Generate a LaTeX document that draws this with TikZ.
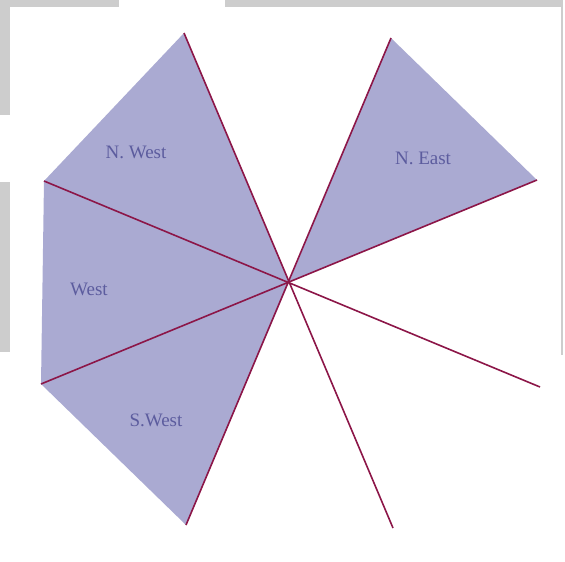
\documentclass[tikz,border=0pt]{standalone}
\usepackage{fontspec}
\setmainfont{Liberation Serif}
\definecolor{sectorfill}{RGB}{170,170,210}
\definecolor{rayline}{RGB}{140,22,72}
\definecolor{dirtext}{RGB}{92,92,158}
\definecolor{shotgrey}{RGB}{205,205,205}
\begin{document}
\begin{tikzpicture}[x=1pt,y=-1pt]
    \tikzset{
        sector/.style={fill=sectorfill,draw=none},
        ray/.style={draw=rayline,line width=1.6pt},
        dirlabel/.style={text=dirtext,font=\fontsize{19}{22}\selectfont,inner sep=0pt},
        frame/.style={fill=shotgrey,draw=none}
    }
    \useasboundingbox (0,0) rectangle (565,562);

    % screenshot edges
    \fill[frame] (0,0) rectangle (119,7);
    \fill[frame] (225,0) rectangle (563,7);
    \fill[frame] (0,0) rectangle (10,115);
    \fill[frame] (0,182) rectangle (10,352);
    \fill[frame] (561,0) rectangle (563,355);

    % hub and rim points
    \coordinate (hub) at (289,282);
    \coordinate (nw-top) at (184,33);
    \coordinate (ne-top) at (391,38);
    \coordinate (ne-right) at (537,180);
    \coordinate (w-up) at (44,181);
    \coordinate (w-low) at (41,384);
    \coordinate (sw-bot) at (186,525);
    \coordinate (se-right) at (540,387);
    \coordinate (se-bot) at (393,528);

    \fill[sector] (hub) -- (nw-top) -- (w-up) -- cycle;
    \fill[sector] (hub) -- (w-up) -- (w-low) -- cycle;
    \fill[sector] (hub) -- (w-low) -- (sw-bot) -- cycle;
    \fill[sector] (hub) -- (ne-top) -- (ne-right) -- cycle;

    \draw[ray] (nw-top) -- (se-bot);
    \draw[ray] (ne-top) -- (sw-bot);
    \draw[ray] (ne-right) -- (w-low);
    \draw[ray] (w-up) -- (se-right);

    \node[dirlabel] (nwest) at (136,152) {N. West};
    \node[dirlabel] (neast) at (423,158) {N. East};
    \node[dirlabel] (west) at (89,289) {West};
    \node[dirlabel] (swest) at (156,420) {S.West};
\end{tikzpicture}
\end{document}
